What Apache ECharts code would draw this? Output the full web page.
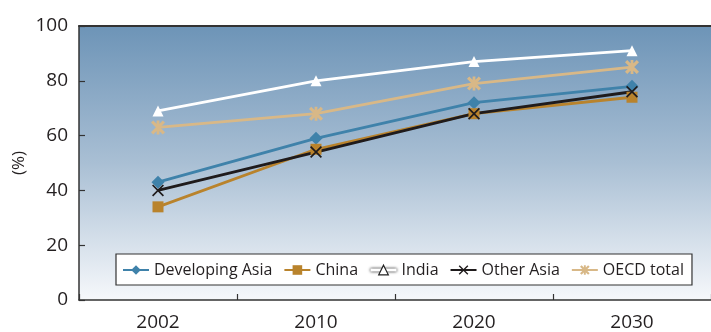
<!DOCTYPE html>
<html>
<head>
<meta charset="utf-8">
<script src="https://cdn.jsdelivr.net/npm/echarts@6/dist/echarts.min.js"></script>
<style>
html,body{margin:0;padding:0;background:#fff;}
#main{width:711px;height:332px;}
</style>
</head>
<body>
<div id="main"></div>
<script>
const categories = ['2002', '2010', '2020', '2030'];
const developingAsia = [43, 59, 72, 78];
const china = [34, 55, 68, 74];
const india = [69, 80, 87, 91];
const otherAsia = [40, 54, 68, 76];
const oecdTotal = [63, 68, 79, 85];
const yTicks = [0, 20, 40, 60, 80, 100];

const FONT = '"Open Sans", "DejaVu Sans", sans-serif';
const TXT = '#231f20';

const xPath = 'path://M0,1L1,0L10,9L9,10Z M9,0L10,1L1,10L0,9Z';
const starPath = 'path://M0,1.6L1.6,0L10,8.4L8.4,10Z M8.4,0L10,1.6L1.6,10L0,8.4Z M4,0L6,0L6,10L4,10Z';

const chart = echarts.init(document.getElementById('main'), null, {renderer: 'canvas'});

function mk(name, data, color, symbol, size, extra) {
  return Object.assign({
    name: name,
    type: 'line',
    data: data,
    symbol: symbol,
    symbolSize: size,
    showAllSymbol: true,
    lineStyle: {color: color, width: 2.8},
    itemStyle: {color: color},
    emphasis: {disabled: true},
    animation: false
  }, extra || {});
}

chart.setOption({
  animation: false,
  textStyle: {fontFamily: FONT},
  grid: {
    left: 79, right: -10, top: 26, bottom: 32,
    show: true,
    borderWidth: 0,
    backgroundColor: {
      type: 'linear', x: 0, y: 0, x2: 0, y2: 1,
      colorStops: [
        {offset: 0, color: '#6d94b7'},
        {offset: 0.5, color: '#a9bfd4'},
        {offset: 1, color: '#f6f8fb'}
      ]
    }
  },
  legend: {
    left: 116,
    top: 254,
    width: 590,
    padding: [8, 8, 7, 6],
    itemGap: 11,
    itemWidth: 26,
    itemHeight: 12,
    backgroundColor: '#ffffff',
    borderColor: '#333333',
    borderWidth: 1.2,
    textStyle: {fontFamily: FONT, fontSize: 16, color: TXT},
    data: [
      {name: 'Developing Asia'},
      {name: 'China'},
      {name: 'India', itemStyle: {color: '#ffffff', borderColor: '#222', borderWidth: 1.2},
        lineStyle: {color: '#ffffff', width: 3, shadowColor: '#000', shadowBlur: 3}},
      {name: 'Other Asia'},
      {name: 'OECD total'}
    ]
  },
  xAxis: [{
    type: 'category',
    data: categories,
    boundaryGap: true,
    axisLine: {show: true, lineStyle: {color: '#333', width: 1.5}},
    axisTick: {show: true, inside: true, length: 6, lineStyle: {color: '#333', width: 1.2}},
    axisLabel: {color: TXT, fontSize: 19, margin: 13, fontFamily: FONT},
    splitLine: {show: false}
  }, {
    type: 'category',
    data: categories,
    position: 'top',
    axisLine: {show: true, lineStyle: {color: '#333', width: 2}},
    axisTick: {show: false},
    axisLabel: {show: false}
  }],
  yAxis: {
    type: 'value',
    min: yTicks[0],
    max: yTicks[yTicks.length - 1],
    interval: 20,
    name: '(%)',
    nameLocation: 'middle',
    nameGap: 51,
    nameMoveOverlap: false,
    nameRotate: 90,
    nameTextStyle: {color: TXT, fontSize: 17, fontFamily: FONT},
    axisLine: {show: true, lineStyle: {color: '#333', width: 1.5}},
    axisTick: {show: true, inside: true, length: 6, lineStyle: {color: '#333', width: 1.2}},
    axisLabel: {color: TXT, fontSize: 19, margin: 11, fontFamily: FONT},
    splitLine: {show: false}
  },
  series: [
    mk('Developing Asia', developingAsia, '#3f82aa', 'diamond', 13),
    mk('China', china, '#b9832c', 'rect', 11),
    mk('India', india, '#ffffff', 'triangle', 11),
    mk('Other Asia', otherAsia, '#1f1b1c', xPath, 12),
    mk('OECD total', oecdTotal, '#d8b887', starPath, 14)
  ]
});
</script>
</body>
</html>
